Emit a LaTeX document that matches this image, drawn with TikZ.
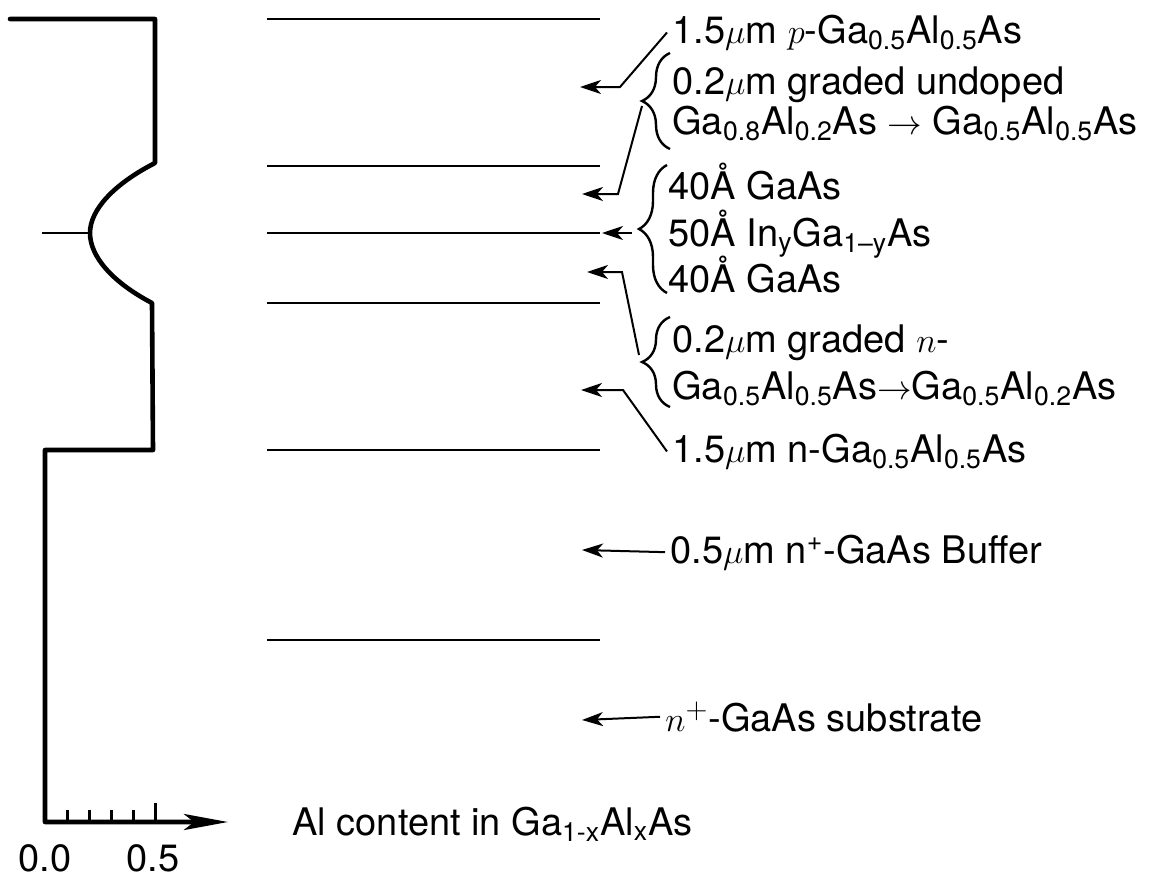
\documentclass[tikz,border=0pt]{standalone}
\usepackage{fontspec}
\setmainfont{TeX Gyre Heros}
\usetikzlibrary{arrows.meta,decorations.pathreplacing}
\newcommand{\GaAl}[2]{Ga\textsubscript{#1}Al\textsubscript{#2}As}
\begin{document}
\begin{tikzpicture}[
    x=0.5pt,
    y=-0.5pt,
    profile/.style={
        line width=2.3pt,
        line join=round,
        line cap=round
    },
    layer/.style={
        line width=1.2pt
    },
    arrow/.style={
        -{Stealth[length=10.5pt,width=7pt,inset=3pt]},
        line width=1pt
    },
    brc/.style={
        decorate,
        decoration={brace, amplitude=14pt},
        line width=1.2pt
    },
    label/.style={
        anchor=base west,
        inner xsep=2.5pt,
        inner ysep=0pt,
        font=\fontsize{19}{22}\selectfont
    }
]
\useasboundingbox (0,0) rectangle (1157,878);

% Al content profile and axis
\draw[profile, -{Stealth[length=22pt,width=8pt,inset=5pt]}]
    (10,19) -- (155,19) -- (155,163)
    .. controls (114,184) and (90,209.7) .. (90,233)
    .. controls (90,256.3) and (112,282) .. (152,303)
    -- (153,450) -- (45,450) -- (45,822) -- (228,822);
\draw[line width=1pt] (42,233) -- (90,233);
\foreach \tx in {67,89,111,133}
    \draw[line width=1.5pt] (\tx,810) -- (\tx,822);
\draw[line width=1.5pt] (155,803) -- (155,822);
\node[label, anchor=base] (x0) at (45,871) {0.0};
\node[label, anchor=base] (x5) at (153,871) {0.5};
\node[label] (axl) at (287,835) {Al content in Ga\textsubscript{1-x}Al\textsubscript{x}As};

% Layer boundaries
\foreach \ly in {19,166,233,303,450,640}
    \draw[layer] (267,\ly) -- (600,\ly);

% Labels
\node[label] (p1) at (667,43) {1.5$\mu$m $p$-\GaAl{0.5}{0.5}};
\node[label] (gr1) at (667,94) {0.2$\mu$m graded undoped};
\node[label] (gr2) at (667,134) {\GaAl{0.8}{0.2} $\rightarrow$ \GaAl{0.5}{0.5}};
\node[label] (qw1) at (663,199) {40Å GaAs};
\node[label] (qw2) at (663,246) {50Å In\textsubscript{y}Ga\textsubscript{1--y}As};
\node[label] (qw3) at (663,292) {40Å GaAs};
\node[label] (gn1) at (667,352) {0.2$\mu$m graded $n$-};
\node[label] (gn2) at (667,399) {\GaAl{0.5}{0.5}$\rightarrow$\GaAl{0.5}{0.2}};
\node[label] (n1) at (667,462) {1.5$\mu$m n-\GaAl{0.5}{0.5}};
\node[label] (buf) at (665,563) {0.5$\mu$m n\textsuperscript{+}-GaAs Buffer};
\node[label] (sub) at (660,731) {$n^{+}$-GaAs substrate};

% Braces
\draw[brc] (670,149) -- (670,53);
\draw[brc] (667,293) -- (667,165);
\draw[brc] (670,407) -- (670,317);
\coordinate (b1) at (642,106);
\coordinate (b2) at (632,233);
\coordinate (b3) at (639,355);

% Arrow tips
\coordinate (t1) at (580,87);
\coordinate (t2) at (582,194);
\coordinate (t3) at (602,233);
\coordinate (t4) at (587,272);
\coordinate (t5) at (581,390);
\coordinate (t6) at (582,550);
\coordinate (t7) at (582,720);

% Arrows
\draw[arrow] (p1.west) -- (620,87) -- (t1);
\draw[arrow] (b1) -- (618,194) -- (t2);
\draw[arrow] (b2) -- (t3);
\draw[arrow] (b3) -- (622,272) -- (t4);
\draw[arrow] (n1.west) -- (623,390) -- (t5);
\draw[arrow] (buf.west) -- (t6);
\draw[arrow] (sub.west) -- (t7);

\end{tikzpicture}
\end{document}
